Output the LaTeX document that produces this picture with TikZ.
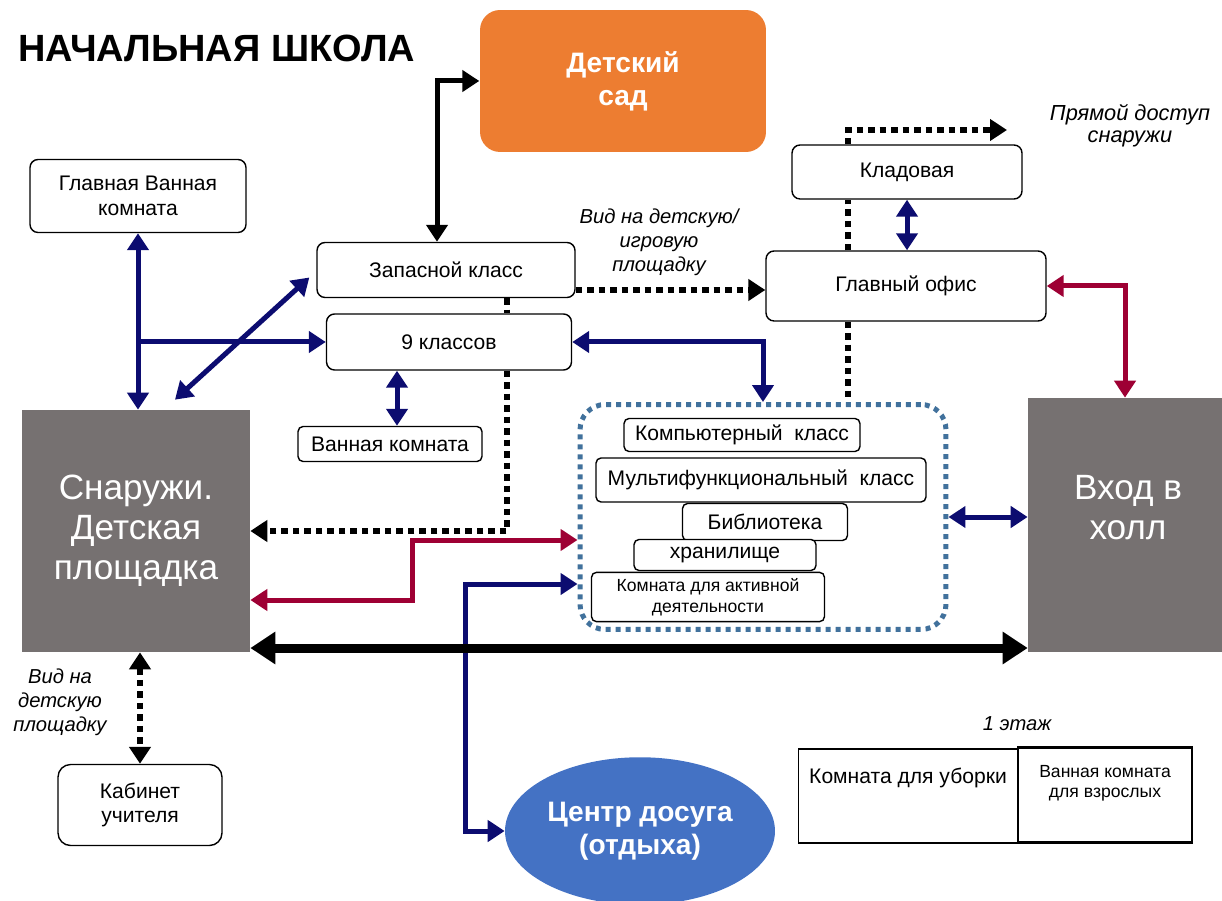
\documentclass[tikz,border=0pt]{standalone}
\usepackage{fontspec}
\setmainfont{Liberation Sans}
\usetikzlibrary{arrows.meta,positioning,shapes.geometric}

\definecolor{navyline}{RGB}{12,12,112}
\definecolor{wine}{RGB}{158,0,52}
\definecolor{yardgrey}{RGB}{118,113,113}
\definecolor{kinder}{RGB}{237,125,49}
\definecolor{leisureblue}{RGB}{68,114,196}
\definecolor{groupblue}{RGB}{65,113,156}

\begin{document}
\begin{tikzpicture}[x=0.02cm,y=-0.02cm,>={Triangle[length=0.34cm,width=0.42cm]},
                    room/.style={draw,rounded corners=0.16cm,fill=white,line width=0.8pt,
                                 font=\fontsize{12}{14}\selectfont,align=center},
                    block/.style={fill=yardgrey,text=white,font=\fontsize{20}{22.7}\selectfont,align=center},
                    note/.style={font=\fontsize{11.5}{13.6}\selectfont\itshape,align=center},
                    link/.style={navyline,line width=0.1cm},
                    redlink/.style={wine,line width=0.1cm},
                    heavy/.style={black,line width=0.1cm},
                    bigtip/.style={>={Triangle[length=0.5cm,width=0.62cm]}},
                    dots/.style={black,line width=0.12cm,dash pattern=on 0.13cm off 0.1cm}]

  \useasboundingbox (0,0) rectangle (1222,901);

  \node[anchor=west,font=\fontsize{21.6}{25}\selectfont\bfseries] (title) at (12,48) {НАЧАЛЬНАЯ ШКОЛА};

  \node[room,fill=kinder,draw=none,rounded corners=0.4cm,text=white,font=\fontsize{16}{18.7}\selectfont\bfseries,
        minimum width=5.72cm,minimum height=2.84cm] (sad) at (623,81) {Детский\\сад};
  \node[room,minimum width=4.32cm,minimum height=1.46cm] (mainbath) at (138,196) {Главная Ванная\\комната};
  \node[room,minimum width=5.16cm,minimum height=1.1cm] (spare) at (446,270) {Запасной класс};
  \node[room,minimum width=4.9cm,minimum height=1.12cm] (nine) at (449,342) {9 классов};
  \node[room,rounded corners=0.1cm,minimum width=3.68cm,minimum height=0.7cm] (wc) at (390,444) {Ванная комната};
  \node[block,minimum width=4.56cm,minimum height=4.84cm] (yard) at (136,531) {Снаружи.\\Детская\\площадка};
  \node[room,minimum width=4.6cm,minimum height=1.08cm] (pantry) at (907,172) {Кладовая};
  \node[room,minimum width=5.6cm,minimum height=1.4cm] (office) at (906,286) {Главный офис};
  \node[block,minimum width=3.88cm,minimum height=5.08cm] (hall) at (1125,525) {};
  \node[block,fill=none] (halltext) at (1128,508) {Вход в\\холл};

  % shared rooms
  \node[draw=groupblue,line width=0.1cm,dash pattern=on 0.1cm off 0.1cm,rounded corners=0.5cm,
        minimum width=7.32cm,minimum height=4.5cm] (wing) at (763,517) {};
  \node[room,rounded corners=0.1cm,minimum width=4.72cm,minimum height=0.66cm] (computer) at (742,435) {Компьютерный\ \ класс};
  \node[room,rounded corners=0.1cm,minimum width=6.6cm,minimum height=0.88cm] (multi) at (761,480) {Мультифункциональный\ \ класс};
  \node[room,rounded corners=0.1cm,minimum width=3.3cm,minimum height=0.74cm] (library) at (765,522) {Библиотека};
  \node[room,rounded corners=0.1cm,minimum width=3.64cm,minimum height=0.62cm] (storage) at (725,555) {хранилище};
  \node[room,rounded corners=0.1cm,minimum width=4.66cm,minimum height=0.96cm,
        font=\fontsize{10}{12}\selectfont] (activity) at (708,597) {Комната для активной\\деятельности};

  \node[ellipse,fill=leisureblue,text=white,font=\fontsize{16}{19}\selectfont\bfseries,align=center,
        inner sep=0pt,minimum width=5.4cm,minimum height=2.95cm] (leisure) at (640,831) {Центр досуга\\(отдыха)};
  \node[room,rounded corners=0.25cm,minimum width=3.28cm,minimum height=1.62cm] (teacher) at (140,805) {Кабинет\\учителя};

  \node[draw,line width=0.8pt,minimum width=4.38cm,minimum height=1.88cm] (cleaning) at (908,796) {};
  \node[font=\fontsize{12}{14}\selectfont] (cleaningtext) at ([yshift=-0.6cm]cleaning.north) {Комната для уборки};
  \node[draw,line width=1.6pt,minimum width=3.48cm,minimum height=1.9cm] (adultbath) at (1105,795) {};
  \node[font=\fontsize{10}{11.3}\selectfont,align=center] (adulttext) at ([yshift=-0.74cm]adultbath.north) {Ванная комната\\для взрослых};

  \node[note] (floor) at (1017,724) {1 этаж};
  \node[note,font=\fontsize{12.4}{12.6}\selectfont\itshape] (direct) at (1130,126) {Прямой доступ\\снаружи};
  \node[note] (viewplay) at (659,242) {Вид на детскую/\\игровую\\площадку};
  \node[note] (viewyard) at (60,702) {Вид на\\детскую\\площадку};

  \coordinate (outside) at (1007,130);
  \coordinate (drop) at (507,0);
  \coordinate (rise) at (848,0);
  \coordinate (bathx) at (397,0);
  \coordinate (viewline) at (0,290);
  \coordinate (redlow) at (412,600);
  \coordinate (redhigh) at (412,540);
  \coordinate (lanetop) at (465,584);
  \coordinate (floorline) at (0,648);

  % connections
  \draw[heavy,<->] ([xshift=-0.18cm]spare.north) |- (sad.west);
  \draw[link,<->] (mainbath.south) -- (mainbath.south |- yard.north);
  \draw[link,->] (mainbath.south |- nine.west) -- (nine.west);
  \draw[link,<->] ([shift={(0.78cm,0.2cm)}]yard.north) -- ([shift={(-0.14cm,-0.15cm)}]spare.west);
  \draw[link,<->] (nine.south -| bathx) -- (wc.north -| bathx);
  \draw[link,<->] (nine.east) -| (wing.north);
  \draw[dots] (spare.south -| drop) -- (nine.north -| drop);
  \draw[dots,->] (nine.south -| drop) |- (yard.east);
  \draw[dots,->] (spare.east |- viewline) -- (office.west |- viewline);
  \draw[dots] (office.south -| rise) -- (wing.north -| rise);
  \draw[dots] (office.north -| rise) -- (pantry.south -| rise);
  \draw[dots,->] (pantry.north -| rise) |- (outside);
  \draw[link,<->] (pantry.south) -- (pantry.south |- office.north);
  \draw[redlink,<->] (office.east) -| (hall.north);
  \draw[link,<->] (wing.east) -- (wing.east -| hall.west);
  \draw[redlink,<->] (yard.east |- redlow) -- (redlow) -- (redhigh) -- (wing.west |- redhigh);
  \draw[link,<->] (leisure.west) -- (leisure.west -| lanetop) -- (lanetop) -- (wing.west |- lanetop);
  \draw[heavy,bigtip,<->,line width=0.18cm] (yard.east |- floorline) -- (hall.west |- floorline);
  \draw[dots,<->] (teacher.north |- yard.south) -- (teacher.north);
\end{tikzpicture}
\end{document}
